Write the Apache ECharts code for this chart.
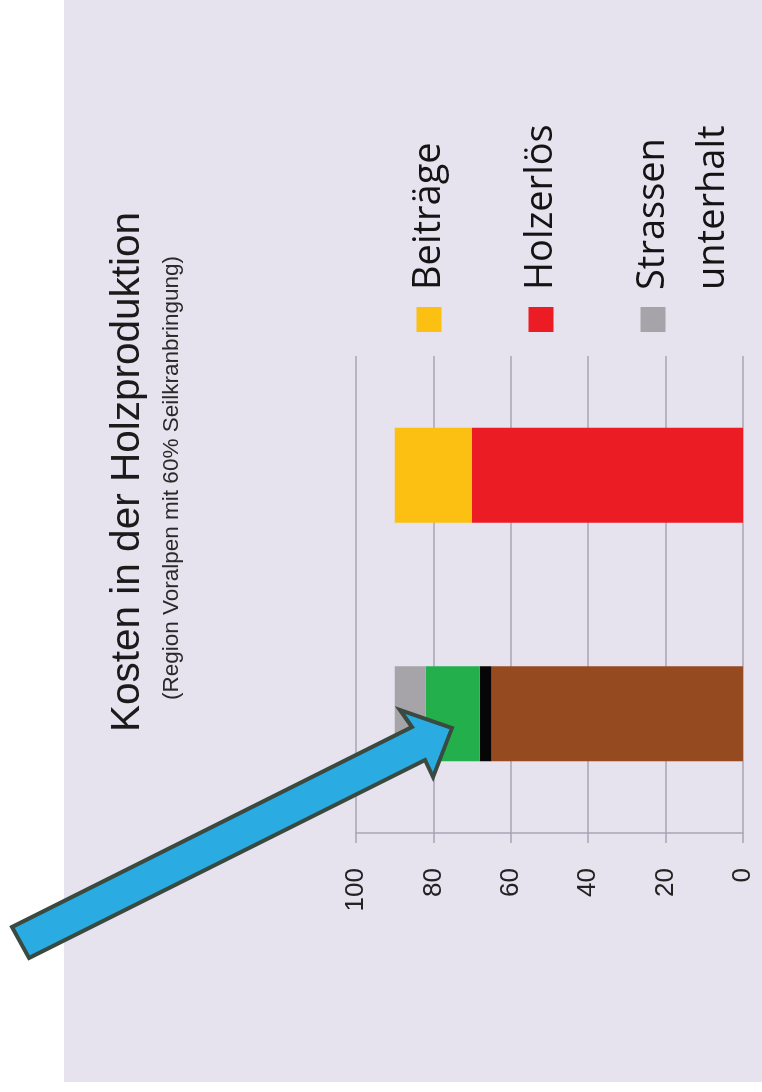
<!DOCTYPE html>
<html>
<head>
<meta charset="utf-8">
<script src="https://cdn.jsdelivr.net/npm/echarts@6/dist/echarts.min.js"></script>
<style>
  html, body { margin: 0; padding: 0; background: #ffffff; }
  body { width: 762px; height: 1092px; overflow: hidden; position: relative; }
  /* chart is laid out landscape and turned a quarter counter-clockwise */
  #chart {
    position: absolute; left: 0; top: 0;
    width: 1092px; height: 762px;
    transform-origin: 0 0;
    transform: translate(0, 1092px) rotate(-90deg);
  }
</style>
</head>
<body>
<div id="chart"></div>
<script>
const categories = ["Kosten", "Erlöse"];

// cost side (stacked from the bottom)
const holzernte = [65, null];
const verwaltung = [3, null];
const pflege = [14, null];
const strassenunterhalt = [8, null];

// revenue side
const holzerloes = [null, 70];
const beitraege = [null, 20];

const yTicks = [0, 20, 40, 60, 80, 100];
const legendNames = ["Beiträge", "Holzerlös", "Strassenunterhalt"];

const chart = echarts.init(document.getElementById("chart"));

const gridColor = "#a9a4b4";
const barWidth = 95;

const option = {
  animation: false,
  backgroundColor: "transparent",
  title: [
    {
      text: "Kosten in der Holzproduktion",
      left: 355,
      top: 102,
      textStyle: { fontFamily: "Liberation Sans", fontSize: 40.5, fontWeight: "normal", color: "#1b1b1b" },
    },
    {
      text: "(Region Voralpen mit 60% Seilkranbringung)",
      left: 387,
      top: 155,
      textStyle: { fontFamily: "Liberation Sans", fontSize: 22.5, fontWeight: "normal", color: "#2a2a2a" },
    },
  ],
  legend: {
    data: legendNames,
    orient: "vertical",
    left: 760,
    top: 339,
    height: 700,
    padding: 0,
    // every entry is three lines tall so the marker sits on the first text line
    itemGap: -68,
    itemWidth: 25,
    itemHeight: 25,
    icon: "rect",
    selectedMode: false,
    formatter: function (name) {
      return name === "Strassenunterhalt" ? "\nStrassen\nunterhalt" : "\n" + name + "\n";
    },
    textStyle: {
      fontFamily: "Open Sans",
      fontSize: 38,
      color: "#141414",
      lineHeight: 60,
      padding: [0, 0, 0, 12],
    },
  },
  grid: { left: 259, right: 356, top: 356, bottom: 19 },
  xAxis: {
    type: "category",
    data: categories,
    axisLine: { show: false },
    axisTick: { show: false },
    axisLabel: { show: false },
  },
  yAxis: {
    type: "value",
    min: 0,
    max: 100,
    interval: 20,
    axisLine: { show: true, lineStyle: { color: gridColor, width: 1.5 } },
    axisTick: { show: true, length: 10, lineStyle: { color: gridColor, width: 1.5 } },
    splitLine: { show: true, lineStyle: { color: gridColor, width: 1.5 } },
    axisLabel: {
      margin: 35,
      fontFamily: "Liberation Sans",
      fontSize: 26,
      color: "#222222",
      formatter: function (v) {
        return yTicks.indexOf(v) >= 0 ? String(v) : "";
      },
    },
  },
  series: [
    { name: "Holzernte", type: "bar", stack: "total", barWidth: barWidth, data: holzernte, itemStyle: { color: "#954a20" } },
    { name: "Verwaltung", type: "bar", stack: "total", barWidth: barWidth, data: verwaltung, itemStyle: { color: "#060606" } },
    { name: "Pflege", type: "bar", stack: "total", barWidth: barWidth, data: pflege, itemStyle: { color: "#23b04c" } },
    { name: "Strassenunterhalt", type: "bar", stack: "total", barWidth: barWidth, data: strassenunterhalt, itemStyle: { color: "#a6a4a8" } },
    { name: "Holzerlös", type: "bar", stack: "total", barWidth: barWidth, data: holzerloes, itemStyle: { color: "#ec1c24" } },
    { name: "Beiträge", type: "bar", stack: "total", barWidth: barWidth, data: beitraege, itemStyle: { color: "#fcc012" } },
  ],
  graphic: [
    {
      // lavender panel behind the chart
      type: "rect",
      z: -10,
      silent: true,
      shape: { x: 10, y: 64, width: 1082, height: 698 },
      style: { fill: "#e6e2ee" },
    },
    {
      // blue pointer arrow
      type: "polygon",
      z: 100,
      silent: true,
      shape: {
        points: [
          [165, 12], [365, 412], [382, 400], [364, 452],
          [315, 433], [332, 425], [134, 29],
        ],
      },
      style: { fill: "#2aace2", stroke: "#3a4a40", lineWidth: 4, lineJoin: "miter" },
    },
  ],
};

chart.setOption(option);
</script>
</body>
</html>
